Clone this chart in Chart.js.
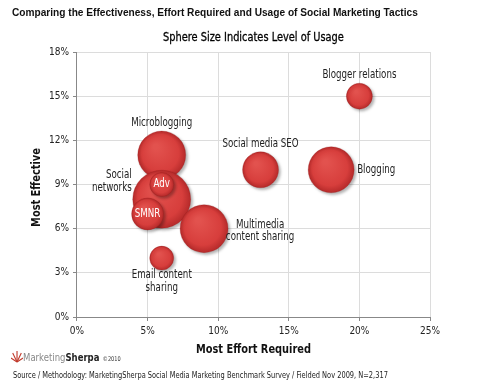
<!DOCTYPE html>
<html>
<head>
<meta charset="utf-8">
<script src="https://cdn.jsdelivr.net/npm/chart.js@4.4.1/dist/chart.umd.min.js"></script>
<style>
  body { margin: 0; background: #fff; }
  #wrap { position: relative; width: 480px; height: 389px; overflow: hidden; }
  #myChart { position: absolute; left: 0; top: 0; }
  .narrow { font-family: "Liberation Sans Narrow", "DejaVu Sans Condensed", "Roboto Condensed", Arial, sans-serif; }
  #mainTitle { position: absolute; left: 12px; top: 6px; font: bold 10.5px "Liberation Sans", Arial, sans-serif; color: #111; white-space: nowrap; transform-origin: left; transform: scaleX(0.965); }
  #subTitle { position: absolute; left: 163px; top: 29px; font-size: 13px; color: #000; white-space: nowrap; transform-origin: left; transform: scaleX(0.84); -webkit-text-stroke: 0.3px #000; }
  #logo { position: absolute; left: 11px; top: 349px; font-size: 11px; color: #888; white-space: nowrap; transform-origin: left; transform: scaleX(0.86); }
  #logo b { color: #222; }
  #logo small { font-size: 6.5px; color: #333; margin-left: 4px; }
  #source { position: absolute; left: 13px; top: 370px; font-size: 8.3px; color: #222; white-space: nowrap; transform-origin: left; transform: scaleX(0.89); }
</style>
</head>
<body>
<div id="wrap">
  <canvas id="myChart" width="480" height="389"></canvas>
  <div id="mainTitle">Comparing the Effectiveness, Effort Required and Usage of Social Marketing Tactics</div>
  <div id="subTitle" class="narrow">Sphere Size Indicates Level of Usage</div>
  <div id="logo" class="narrow"><svg width="14" height="14" viewBox="0 0 14 14" style="vertical-align:-2px"><g stroke="#c0392b" stroke-width="1.3"><line x1="7" y1="13" x2="7" y2="2"/><line x1="7" y1="13" x2="2" y2="4"/><line x1="7" y1="13" x2="12" y2="4"/><line x1="7" y1="13" x2="0" y2="9"/><line x1="7" y1="13" x2="14" y2="9"/></g></svg>Marketing<b>Sherpa</b><small>©2010</small></div>
  <div id="source" class="narrow">Source / Methodology: MarketingSherpa Social Media Marketing Benchmark Survey / Fielded Nov 2009, N=2,317</div>
</div>
<script>
const tactics = ["Microblogging", "Social networks", "Adv", "SMNR", "Multimedia content sharing",
  "Email content sharing", "Social media SEO", "Blogging", "Blogger relations"];
const effort = [6, 6, 6, 5, 9, 6, 13, 18, 20];          // % most effort required
const effective = [11, 8, 9, 7, 6, 4, 10, 10, 15];      // % most effective
const usage = [24, 29, 12, 16, 24, 12, 18, 23, 13];     // relative level of usage (sphere size)
const xTicks = [0, 5, 10, 15, 20, 25];
const yTicks = [0, 3, 6, 9, 12, 15, 18];
const xTitle = "Most Effort Required";
const yTitle = "Most Effective";

const narrow = "'Liberation Sans Narrow', 'DejaVu Sans Condensed', 'Roboto Condensed', Arial, sans-serif";
const squeeze = 0.84;

// where each label sits relative to its sphere
const labelPlace = {
  "Microblogging": ["top"],
  "Social networks": ["left", "Social", "networks"],
  "Adv": ["inside"],
  "SMNR": ["inside"],
  "Multimedia content sharing": ["right", "Multimedia", "content sharing"],
  "Email content sharing": ["bottom", "Email content", "sharing"],
  "Social media SEO": ["top"],
  "Blogging": ["right"],
  "Blogger relations": ["top"]
};

const sphereColor = (ctx) => {
  const chart = ctx.chart;
  const raw = ctx.raw;
  if (!chart.chartArea || !raw || !chart.scales.x) return "#d63d3b";
  const x = chart.scales.x.getPixelForValue(raw.x);
  const y = chart.scales.y.getPixelForValue(raw.y);
  const r = raw.r;
  const g = chart.ctx.createRadialGradient(x - r * 0.25, y - r * 0.35, r * 0.1, x, y, r);
  g.addColorStop(0, "#e2524e");
  g.addColorStop(0.75, "#d73e3c");
  g.addColorStop(1, "#b52a2a");
  return g;
};

// text drawn narrower than the font, like the condensed face of the original
const narrowText = (c, txt, x, y, align) => {
  c.save();
  c.translate(x, y);
  c.scale(squeeze, 1);
  c.textAlign = align;
  c.fillText(txt, 0, 0);
  c.restore();
};

const shadowPlugin = {
  id: "shadow",
  beforeDatasetsDraw(chart) {
    const c = chart.ctx;
    c.save();
    c.shadowColor = "rgba(0,0,0,0.3)";
    c.shadowBlur = 3;
    c.shadowOffsetX = 2;
    c.shadowOffsetY = 2;
  },
  afterDatasetsDraw(chart) {
    chart.ctx.restore();
    const c = chart.ctx;
    const meta = chart.getDatasetMeta(0);
    c.save();
    c.font = "11.5px " + narrow;
    c.textBaseline = "middle";
    meta.data.forEach((pt, i) => {
      const name = tactics[i];
      const place = labelPlace[name];
      const lines = place.length > 1 ? place.slice(1) : [name];
      const r = usage[i];
      let x = pt.x, y = pt.y, align = "center";
      c.fillStyle = "#222";
      if (place[0] === "top") {
        y = pt.y - r - 8;
      } else if (place[0] === "bottom") {
        y = pt.y + r + 5;
      } else if (place[0] === "left") {
        align = "right";
        x = pt.x - r - 1;
        y = pt.y - 24;
      } else if (place[0] === "right") {
        if (lines.length > 1) {
          x = pt.x + r + 32;
          y = pt.y - 4;
        } else {
          align = "left";
          x = pt.x + r + 3;
        }
      } else {
        c.fillStyle = "#fff";
      }
      lines.forEach((ln, k) => narrowText(c, ln, x, y + k * 12.5, align));
    });
    c.restore();
  },
  afterDraw(chart) {
    const c = chart.ctx;
    const a = chart.chartArea;
    c.save();
    c.font = "bold 13px " + narrow;
    c.fillStyle = "#111";
    c.textBaseline = "middle";
    narrowText(c, xTitle, (a.left + a.right) / 2, 350, "center");
    c.translate(37, (a.top + a.bottom) / 2 + 3);
    c.rotate(-Math.PI / 2);
    narrowText(c, yTitle, 0, 0, "center");
    c.restore();
  }
};

const config = {
  type: "bubble",
  data: {
    datasets: [{
      label: "Social marketing tactics",
      data: tactics.map((t, i) => ({ x: effort[i], y: effective[i], r: usage[i] })),
      backgroundColor: sphereColor,
      borderColor: "rgba(150,25,25,0.5)",
      borderWidth: 0.5,
      hoverRadius: 0,
      clip: false
    }]
  },
  options: {
    responsive: false,
    animation: false,
    layout: { padding: { left: 14, right: 50, top: 52, bottom: 27 } },
    plugins: { legend: { display: false }, tooltip: { enabled: false } },
    scales: {
      x: {
        min: 0, max: 25,
        afterBuildTicks: (axis) => { axis.ticks = xTicks.map(v => ({ value: v })); },
        ticks: { callback: v => v + "%", font: { family: narrow, size: 10 }, color: "#222", padding: 4, maxRotation: 0 },
        grid: { color: "#dcdcdc", tickColor: "#888", tickLength: 4 },
        border: { color: "#888" },
        title: { display: true, text: xTitle, font: { family: narrow, size: 12.5, weight: "bold" }, color: "transparent", padding: { top: 2 } }
      },
      y: {
        min: 0, max: 18,
        afterBuildTicks: (axis) => { axis.ticks = yTicks.map(v => ({ value: v })); },
        ticks: { callback: v => v + "%", font: { family: narrow, size: 10 }, color: "#222", padding: 4 },
        grid: { color: "#dcdcdc", tickColor: "#888", tickLength: 4 },
        border: { color: "#888" },
        title: { display: true, text: yTitle, font: { family: narrow, size: 12.5, weight: "bold" }, color: "transparent", padding: { bottom: 12 } }
      }
    }
  },
  plugins: [shadowPlugin]
};

window.onload = () => {
  new Chart(document.getElementById("myChart"), config);
};
</script>
</body>
</html>
